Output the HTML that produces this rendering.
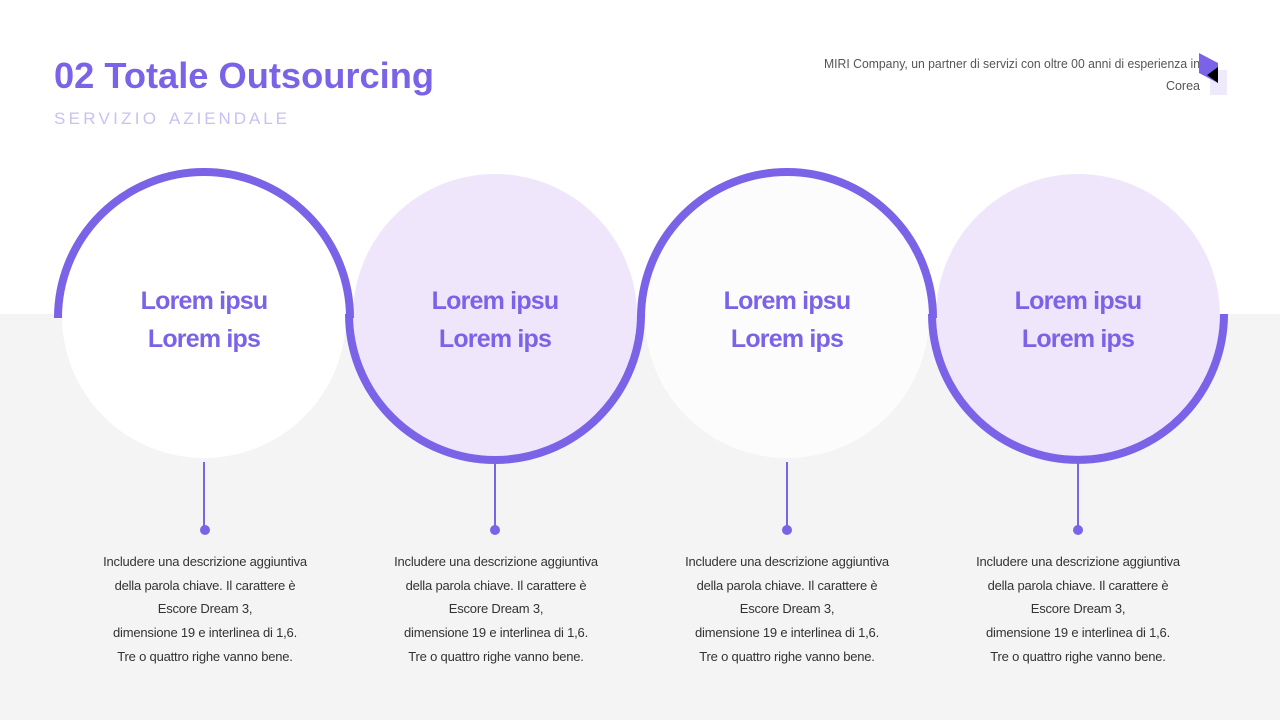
<!DOCTYPE html>
<html><head><meta charset="utf-8"><style>
html,body{margin:0;padding:0;width:1280px;height:720px;overflow:hidden;background:#fff}
svg{display:block}
text{font-family:"Liberation Sans",sans-serif}
</style></head><body>
<svg width="1280" height="720" viewBox="0 0 1280 720" xmlns="http://www.w3.org/2000/svg">
<rect x="0" y="0" width="1280" height="314" fill="#ffffff"/>
<rect x="0" y="314" width="1280" height="406" fill="#f4f4f4"/>
<text x="54" y="88" font-size="36" font-weight="bold" fill="#7b63e8" textLength="380" lengthAdjust="spacingAndGlyphs">02 Totale Outsourcing</text>
<text x="54" y="124" font-size="17" fill="#cbc0f3" textLength="102" lengthAdjust="spacing">SERVIZIO</text>
<text x="169" y="124" font-size="17" fill="#cbc0f3" textLength="118" lengthAdjust="spacing">AZIENDALE</text>
<text x="1200" y="68" font-size="12.5" fill="#555" text-anchor="end" textLength="376" lengthAdjust="spacingAndGlyphs">MIRI Company, un partner di servizi con oltre 00 anni di esperienza in</text>
<text x="1200" y="90" font-size="12.5" fill="#555" text-anchor="end">Corea</text>
<rect x="1210" y="70" width="17" height="25" fill="#efeafb"/>
<polygon points="1199,53 1218,63 1218,83 1199,73" fill="#7b63e8"/>
<polygon points="1207,75 1218,67 1218,83" fill="#000"/>
<g>
<circle cx="204" cy="316" r="142" fill="#ffffff"/>
<circle cx="495" cy="316" r="142" fill="#efe6fc"/>
<circle cx="787" cy="316" r="142" fill="#fcfcfc"/>
<circle cx="1078" cy="316" r="142" fill="#efe6fc"/>
</g>
<g fill="none" stroke="#7b63e8" stroke-width="8">
<path d="M58,318 A146,146 0 0 1 350,318"/>
<path d="M349,314 A146,146 0 0 0 641,314"/>
<path d="M641,318 A146,146 0 0 1 933,318"/>
<path d="M932,314 A146,146 0 0 0 1224,314"/>
</g>
<g font-size="25" font-weight="bold" fill="#7b63e8" text-anchor="middle" letter-spacing="-0.8">
<text x="204" y="309">Lorem ipsu</text><text x="204" y="347">Lorem ips</text>
<text x="495" y="309">Lorem ipsu</text><text x="495" y="347">Lorem ips</text>
<text x="787" y="309">Lorem ipsu</text><text x="787" y="347">Lorem ips</text>
<text x="1078" y="309">Lorem ipsu</text><text x="1078" y="347">Lorem ips</text>
</g>
<g stroke="#7b63e8" stroke-width="2">
<line x1="204" y1="462" x2="204" y2="530"/>
<line x1="495" y1="462" x2="495" y2="530"/>
<line x1="787" y1="462" x2="787" y2="530"/>
<line x1="1078" y1="462" x2="1078" y2="530"/>
</g>
<g fill="#7b63e8">
<circle cx="205" cy="530" r="5"/><circle cx="495" cy="530" r="5"/><circle cx="787" cy="530" r="5"/><circle cx="1078" cy="530" r="5"/>
</g>
<g font-size="13" fill="#333" text-anchor="middle" letter-spacing="-0.2">
<g transform="translate(205,0)"><text x="0" y="566">Includere una descrizione aggiuntiva</text><text x="0" y="590">della parola chiave. Il carattere è</text><text x="0" y="613">Escore Dream 3,</text><text x="0" y="637">dimensione 19 e interlinea di 1,6.</text><text x="0" y="661">Tre o quattro righe vanno bene.</text></g>
<g transform="translate(496,0)"><text x="0" y="566">Includere una descrizione aggiuntiva</text><text x="0" y="590">della parola chiave. Il carattere è</text><text x="0" y="613">Escore Dream 3,</text><text x="0" y="637">dimensione 19 e interlinea di 1,6.</text><text x="0" y="661">Tre o quattro righe vanno bene.</text></g>
<g transform="translate(787,0)"><text x="0" y="566">Includere una descrizione aggiuntiva</text><text x="0" y="590">della parola chiave. Il carattere è</text><text x="0" y="613">Escore Dream 3,</text><text x="0" y="637">dimensione 19 e interlinea di 1,6.</text><text x="0" y="661">Tre o quattro righe vanno bene.</text></g>
<g transform="translate(1078,0)"><text x="0" y="566">Includere una descrizione aggiuntiva</text><text x="0" y="590">della parola chiave. Il carattere è</text><text x="0" y="613">Escore Dream 3,</text><text x="0" y="637">dimensione 19 e interlinea di 1,6.</text><text x="0" y="661">Tre o quattro righe vanno bene.</text></g>
</g>
</svg>
</body></html>
